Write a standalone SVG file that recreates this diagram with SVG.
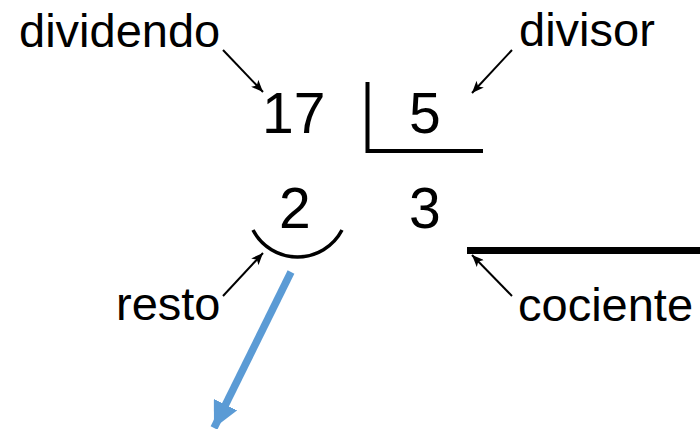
<svg xmlns="http://www.w3.org/2000/svg" width="700" height="429" viewBox="0 0 700 429">
  <style>
    .lbl { font-family: "Liberation Sans", Arial, sans-serif; font-size: 47px; fill: #000; }
    .num { font-family: "Liberation Sans", Arial, sans-serif; font-size: 57px; fill: #000; }
    .ptr { stroke: #000; stroke-width: 2; fill: none; marker-end: url(#tip); }
    .bar { stroke: #000; fill: none; }
  </style>
  <defs>
    <marker id="tip" markerUnits="userSpaceOnUse" markerWidth="14" markerHeight="10" refX="12" refY="5" orient="auto">
      <path d="M0,0 L12,5 L0,10 L3,5 Z" fill="#000"/>
    </marker>
    <marker id="bigtip" markerUnits="userSpaceOnUse" markerWidth="30" markerHeight="26" refX="26" refY="13" orient="auto">
      <path d="M0,0 L26,13 L0,26 Z" fill="#5b9bd5"/>
    </marker>
  </defs>

  <rect width="700" height="429" fill="#fff"/>

  <g id="dividendo">
    <text class="lbl" x="19" y="47">dividendo</text>
  </g>
  <g id="divisor">
    <text class="lbl" x="519" y="46">divisor</text>
  </g>
  <g id="n17">
    <text class="num" x="262" y="133">17</text>
  </g>
  <g id="n5">
    <text class="num" x="409" y="133">5</text>
  </g>
  <g id="bracket">
    <path class="bar" d="M367.5,82 V151 H483" stroke-width="4"/>
  </g>
  <g id="n2">
    <text class="num" x="279" y="228">2</text>
  </g>
  <g id="n3">
    <text class="num" x="409" y="228">3</text>
  </g>
  <g id="arc">
    <path class="bar" d="M253,230 A50.2,50.2 0 0 0 342,230" stroke-width="3.5"/>
  </g>
  <g id="quotient-line">
    <line class="bar" x1="467" y1="250.5" x2="700" y2="250.5" stroke-width="7"/>
  </g>
  <g id="resto">
    <text class="lbl" x="116" y="320">resto</text>
  </g>
  <g id="cociente">
    <text class="lbl" x="518" y="321">cociente</text>
  </g>

  <g id="connectors">
    <line class="ptr" x1="223" y1="50" x2="263" y2="92"/>
    <line class="ptr" x1="512" y1="50" x2="472" y2="93"/>
    <line class="ptr" x1="223" y1="296" x2="263" y2="253"/>
    <line class="ptr" x1="512" y1="296" x2="472" y2="255"/>
    <line x1="291" y1="272" x2="214" y2="428" stroke="#5b9bd5" stroke-width="7.5" marker-end="url(#bigtip)"/>
  </g>
</svg>
